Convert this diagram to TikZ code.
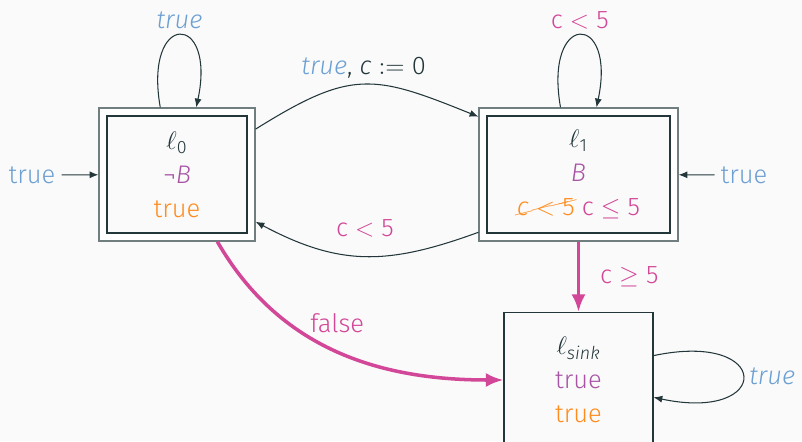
\documentclass[tikz,border=0pt]{standalone}
\usepackage{fontspec}
\setmainfont{Fira Sans Light}[ItalicFont={Fira Sans Light Italic}]
\usepackage{cancel}
\usetikzlibrary{arrows.meta,positioning}
\definecolor{mdark}{RGB}{35,55,59}
\definecolor{mgray}{RGB}{112,126,128}
\definecolor{mbg}{RGB}{250,250,250}
\definecolor{tblue}{RGB}{108,159,210}
\definecolor{tpurple}{RGB}{168,85,166}
\definecolor{torange}{RGB}{255,140,30}
\definecolor{tpink}{RGB}{210,71,152}
\renewcommand{\CancelColor}{\color{torange}}
\newcommand{\loc}[1]{$\ell$\textsubscript{#1}}

\begin{document}
\begin{tikzpicture}[x=0.02cm,y=0.02cm,font=\fontsize{14.5}{19.3}\selectfont,text=mdark,
  locbox/.style={draw=mdark,fill=mbg,line width=0.6pt,align=center,inner sep=0pt,minimum height=2.34cm},
  outbox/.style={draw=mgray,fill=white,line width=0.7pt,minimum height=2.66cm},
  trans/.style={draw=mdark,line width=0.6pt,-{Latex[length=5pt,width=4pt]}},
  bad/.style={draw=tpink,line width=2pt,-{Latex[length=10pt,width=8pt]}}]
\fill[mbg] (0,0) rectangle (802,441);
\useasboundingbox (0,0) rectangle (802,441);
% locations
\node[outbox,minimum width=3.12cm] (l0o) at (177,266.5) {};
\node[locbox,minimum width=2.8cm] (l0) at (l0o) {\loc{0}\\{\color{tpurple}¬\textit{B}}\\{\color{torange}true}};
\node[outbox,minimum width=3.98cm] (l1o) at (578.5,266.5) {};
\node[locbox,minimum width=3.66cm] (l1) at (l1o) {\loc{1}\\{\color{tpurple}\textit{B}}\\{\color{torange}\cancel{\textit{c} $<$ 5}} {\color{tpink}c $\leq$ 5}};
\node[locbox,minimum width=2.98cm,minimum height=2.7cm] (sink) at (578.5,61) {\loc{\textit{sink}}\\{\color{tpurple}true}\\{\color{torange}true}};
% initial
\node[text=tblue] (i0) at (32,266) {true};
\node[text=tblue] (i1) at (744,266) {true};
\draw[trans] (i0) -- (l0o);
\draw[trans] (i1) -- (l1o);
% transitions
\draw[trans] (l0o.104) to[out=100,in=78,looseness=7] node[above,text=tblue] (g00) {\textit{true}} (l0o.74);
\draw[trans] (l1o.105) to[out=100,in=78,looseness=7] node[above,text=tpink] (g11) {c $<$ 5} (l1o.75);
\draw[trans] (l0o.30) to[out=32,in=158,looseness=1.3] node[above] (g01) {\textit{\color{tblue}true}, \textit{c} $:=$ 0} (l1o.150);
\draw[trans] (l1o.210) to[out=200,in=-28,looseness=1.1] node[above=7pt,text=tpink] (g10) {c $<$ 5} (l0o.-31);
\draw[bad] (l0o.301) to[out=-60,in=180] node[above=6pt,text=tpink] (g0s) {false} (sink.west);
\draw[bad] (l1o) -- node[right=8pt,text=tpink] (g1s) {c $\geq$ 5} (sink);
\draw[trans] (sink.18) to[out=12,in=-12,looseness=7.5] node[right,text=tblue] (gss) {\textit{true}} (sink.-13);
\end{tikzpicture}
\end{document}
